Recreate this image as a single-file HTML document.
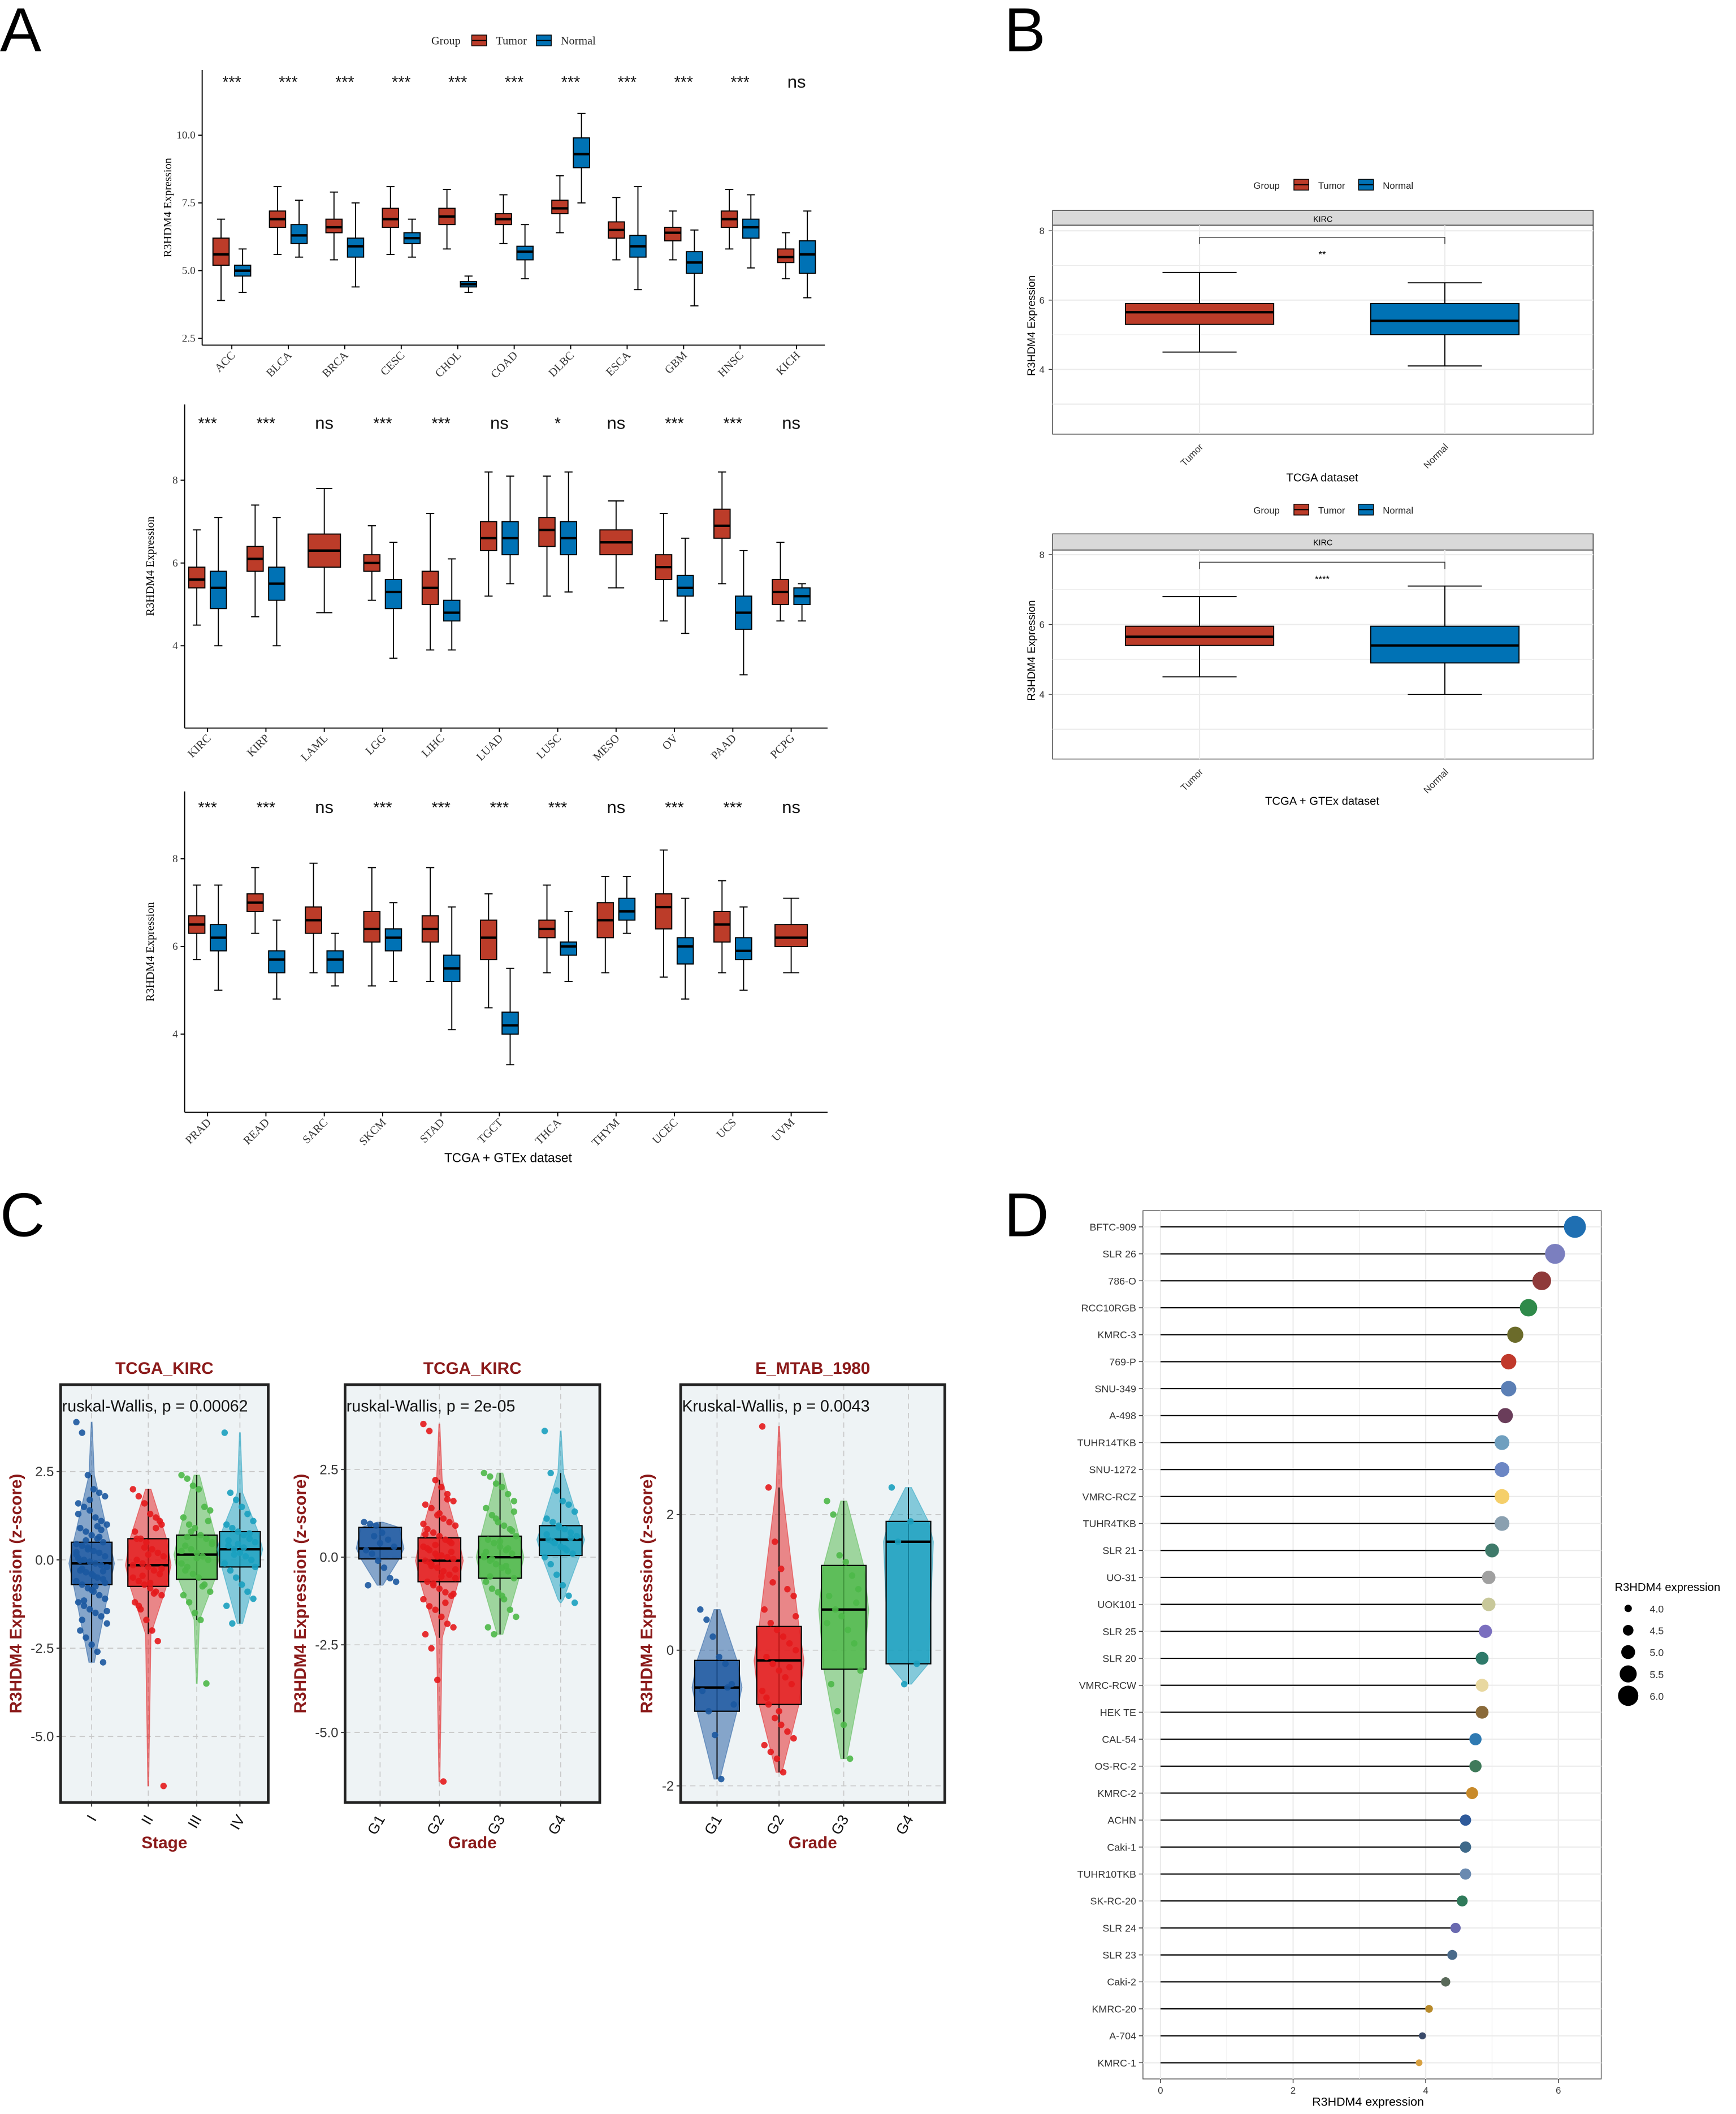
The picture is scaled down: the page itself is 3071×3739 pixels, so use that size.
<!DOCTYPE html>
<html><head><meta charset="utf-8">
<style>
html,body{margin:0;padding:0;background:#fff;}
svg{display:block;}
</style></head>
<body>
<svg id="fig" xmlns="http://www.w3.org/2000/svg" width="3071" height="3739" viewBox="0 0 1288 1568" preserveAspectRatio="none">
<rect x="0" y="0" width="1288" height="1568" fill="#fff"/>
</svg>
<script>
// ---------- Panel A data ----------
const a1Cats = ["ACC","BLCA","BRCA","CESC","CHOL","COAD","DLBC","ESCA","GBM","HNSC","KICH"];
const a1Sig = ["***","***","***","***","***","***","***","***","***","***","ns"];
const a1Tumor = [[3.9,5.2,5.6,6.2,6.9],[5.6,6.6,6.9,7.2,8.1],[5.4,6.4,6.6,6.9,7.9],[5.6,6.6,6.9,7.3,8.1],[5.8,6.7,7.0,7.3,8.0],[6.0,6.7,6.9,7.1,7.8],[6.4,7.1,7.3,7.6,8.5],[5.4,6.2,6.5,6.8,7.7],[5.4,6.1,6.4,6.6,7.2],[5.8,6.6,6.9,7.2,8.0],[4.7,5.3,5.5,5.8,6.4]];
const a1Normal = [[4.2,4.8,5.0,5.2,5.8],[5.5,6.0,6.3,6.7,7.6],[4.4,5.5,5.9,6.2,7.5],[5.5,6.0,6.2,6.4,6.9],[4.2,4.4,4.5,4.6,4.8],[4.7,5.4,5.7,5.9,6.7],[7.5,8.8,9.3,9.9,10.8],[4.3,5.5,5.9,6.3,8.1],[3.7,4.9,5.3,5.7,6.5],[5.1,6.2,6.6,6.9,7.8],[4.0,4.9,5.6,6.1,7.2]];
const a1Ticks = [2.5,5.0,7.5,10.0];

const a2Cats = ["KIRC","KIRP","LAML","LGG","LIHC","LUAD","LUSC","MESO","OV","PAAD","PCPG"];
const a2Sig = ["***","***","ns","***","***","ns","*","ns","***","***","ns"];
const a2Tumor = [[4.5,5.4,5.6,5.9,6.8],[4.7,5.8,6.1,6.4,7.4],[4.8,5.9,6.3,6.7,7.8],[5.1,5.8,6.0,6.2,6.9],[3.9,5.0,5.4,5.8,7.2],[5.2,6.3,6.6,7.0,8.2],[5.2,6.4,6.8,7.1,8.1],[5.4,6.2,6.5,6.8,7.5],[4.6,5.6,5.9,6.2,7.2],[5.5,6.6,6.9,7.3,8.2],[4.6,5.0,5.3,5.6,6.5]];
const a2Normal = [[4.0,4.9,5.4,5.8,7.1],[4.0,5.1,5.5,5.9,7.1],null,[3.7,4.9,5.3,5.6,6.5],[3.9,4.6,4.8,5.1,6.1],[5.5,6.2,6.6,7.0,8.1],[5.3,6.2,6.6,7.0,8.2],null,[4.3,5.2,5.4,5.7,6.6],[3.3,4.4,4.8,5.2,6.3],[4.6,5.0,5.2,5.4,5.5]];
const a2Ticks = [4,6,8];

const a3Cats = ["PRAD","READ","SARC","SKCM","STAD","TGCT","THCA","THYM","UCEC","UCS","UVM"];
const a3Sig = ["***","***","ns","***","***","***","***","ns","***","***","ns"];
const a3Tumor = [[5.7,6.3,6.5,6.7,7.4],[6.3,6.8,7.0,7.2,7.8],[5.4,6.3,6.6,6.9,7.9],[5.1,6.1,6.4,6.8,7.8],[5.2,6.1,6.4,6.7,7.8],[4.6,5.7,6.2,6.6,7.2],[5.4,6.2,6.4,6.6,7.4],[5.4,6.2,6.6,7.0,7.6],[5.3,6.4,6.9,7.2,8.2],[5.4,6.1,6.5,6.8,7.5],[5.4,6.0,6.2,6.5,7.1]];
const a3Normal = [[5.0,5.9,6.2,6.5,7.4],[4.8,5.4,5.7,5.9,6.6],[5.1,5.4,5.7,5.9,6.3],[5.2,5.9,6.2,6.4,7.0],[4.1,5.2,5.5,5.8,6.9],[3.3,4.0,4.2,4.5,5.5],[5.2,5.8,6.0,6.1,6.8],[6.3,6.6,6.8,7.1,7.6],[4.8,5.6,6.0,6.2,7.1],[5.0,5.7,5.9,6.2,6.9],null];
const a3Ticks = [4,6,8];

// ---------- Panel B data ----------
const bGroups = ["Tumor","Normal"];
const b1Stats = [[4.5,5.3,5.65,5.9,6.8],[4.1,5.0,5.4,5.9,6.5]];
const b2Stats = [[4.5,5.4,5.65,5.95,6.8],[4.0,4.9,5.4,5.95,7.1]];
const bTicks = [4,6,8];

// ---------- Panel C data ----------
const c1Groups = ["I","II","III","IV"];
const c1Box = [[-2.9,-0.7,-0.1,0.5,2.4],[-2.1,-0.75,-0.15,0.6,2.0],[-1.7,-0.55,0.15,0.7,2.4],[-1.8,-0.2,0.3,0.8,1.9]];
const c1Range = [[-2.9,3.9],[-6.4,2.0],[-3.5,2.4],[-1.8,3.6]];
const c1Points = [
 [3.9,3.6,2.4,2.0,1.9,1.8,1.6,1.5,1.4,1.2,1.1,1.0,0.9,0.8,0.7,0.6,0.5,0.45,0.4,0.3,0.25,0.2,0.1,0.05,0,-0.05,-0.1,-0.15,-0.2,-0.3,-0.35,-0.4,-0.5,-0.55,-0.6,-0.7,-0.8,-0.9,-1.0,-1.1,-1.2,-1.3,-1.4,-1.5,-1.6,-1.8,-2.0,-2.2,-2.4,-2.6,-2.9,0.15,-0.25,0.35,-0.45,0.65,-0.65,1.3,-1.15,1.7,-0.75,0.85,-1.45,-0.02,0.55,-0.85,0.95,-0.32,0.22,-1.7],
 [2.0,1.8,1.6,1.3,1.2,1.0,0.8,0.6,0.5,0.3,0.2,0.1,0,-0.1,-0.2,-0.3,-0.4,-0.5,-0.6,-0.7,-0.8,-0.9,-1.0,-1.2,-1.4,-1.7,-2.0,-2.3,-6.4,0.6,-0.45,0.15,-0.95,1.1,-0.15,-1.3,0.35,-0.65,0.9,-0.25],
 [2.4,2.3,2.1,2.0,1.5,1.4,1.2,1.0,0.9,0.7,0.6,0.5,0.4,0.3,0.2,0.1,0,-0.1,-0.2,-0.4,-0.5,-0.7,-0.9,-1.0,-1.2,-1.5,-1.7,-3.5,0.45,-0.3,0.8,0.05,-0.75,1.1,0.25,0.65],
 [3.6,1.9,1.7,1.5,1.3,1.1,1.0,0.9,0.8,0.7,0.6,0.5,0.4,0.3,0.2,0.1,0,-0.1,-0.3,-0.5,-0.7,-0.9,-1.1,-1.3,-1.8,0.45,0.35,0.75,-0.2,0.55,0.15]
];
const c1Ticks = [2.5,0.0,-2.5,-5.0];

const c2Groups = ["G1","G2","G3","G4"];
const c2Box = [[-0.8,-0.05,0.25,0.85,1.0],[-2.3,-0.7,-0.1,0.55,2.2],[-2.2,-0.6,0.0,0.6,2.4],[-1.2,0.05,0.5,0.9,2.4]];
const c2Range = [[-0.8,1.0],[-6.4,3.8],[-2.2,2.4],[-1.3,3.6]];
const c2Points = [
 [1.0,0.95,0.9,0.7,0.5,0.3,0.2,0.1,-0.1,-0.3,-0.6,-0.7,-0.8,0.6,0.4],
 [3.8,3.6,2.2,2.0,1.8,1.6,1.5,1.4,1.2,1.1,1.0,0.9,0.8,0.7,0.6,0.5,0.4,0.3,0.2,0.1,0.05,0,-0.05,-0.1,-0.2,-0.3,-0.4,-0.5,-0.6,-0.7,-0.8,-0.9,-1.0,-1.1,-1.2,-1.4,-1.5,-1.7,-1.9,-2.0,-2.2,-2.6,-3.5,-6.4,0.45,-0.35,0.25,-0.75,1.25,-1.3,0.15,0.95,-0.15,0.35,-0.55,1.65,-1.05,0.65,-0.25,0.02],
 [2.4,2.3,2.1,2.0,1.8,1.6,1.4,1.2,1.0,0.9,0.8,0.6,0.5,0.4,0.3,0.2,0.1,0,-0.1,-0.2,-0.3,-0.4,-0.6,-0.7,-0.9,-1.0,-1.2,-1.5,-1.7,-2.0,-2.2,0.45,-0.25,0.75,0.05,-0.55,1.1,-1.1,0.25,1.3,0.15,-0.05],
 [3.6,2.4,1.9,1.6,1.5,1.3,1.1,1.0,0.9,0.8,0.7,0.6,0.5,0.4,0.3,0.2,0.1,0,-0.2,-0.5,-0.8,-1.1,-1.3,0.65,0.45,0.85,0.25,0.55]
];
const c2Ticks = [2.5,0.0,-2.5,-5.0];

const c3Groups = ["G1","G2","G3","G4"];
const c3Box = [[-1.9,-0.9,-0.55,-0.15,0.6],[-1.8,-0.8,-0.15,0.35,2.4],[-1.6,-0.28,0.6,1.25,2.2],[-0.5,-0.2,1.6,1.9,2.4]];
const c3Range = [[-1.9,0.6],[-1.8,3.3],[-1.6,2.2],[-0.5,2.4]];
const c3Points = [
 [0.6,0.45,0.2,-0.1,-0.2,-0.5,-0.6,-0.9,-1.25,-1.9,-0.55,-0.8],
 [3.3,2.4,1.6,1.2,0.9,0.8,0.6,0.4,0.3,0.2,0.1,0,-0.1,-0.2,-0.3,-0.4,-0.5,-0.6,-0.8,-1.0,-1.1,-1.2,-1.3,-1.4,-1.5,-1.6,-1.8,-0.25,0.5,-0.7,1.0,-0.9],
 [2.2,2.0,1.4,1.3,1.1,0.9,0.8,0.6,0.5,0.3,0.1,-0.3,-0.5,-0.9,-1.1,-1.6,0.7,0.4],
 [2.4,1.6,-0.5,1.9,-0.2]
];
const c3Ticks = [2,0,-2];

// ---------- Panel D data ----------
const dLines = ["BFTC-909","SLR 26","786-O","RCC10RGB","KMRC-3","769-P","SNU-349","A-498","TUHR14TKB","SNU-1272","VMRC-RCZ","TUHR4TKB","SLR 21","UO-31","UOK101","SLR 25","SLR 20","VMRC-RCW","HEK TE","CAL-54","OS-RC-2","KMRC-2","ACHN","Caki-1","TUHR10TKB","SK-RC-20","SLR 24","SLR 23","Caki-2","KMRC-20","A-704","KMRC-1"];
const dValues = [6.25,5.95,5.75,5.55,5.35,5.25,5.25,5.2,5.15,5.15,5.15,5.15,5.0,4.95,4.95,4.9,4.85,4.85,4.85,4.75,4.75,4.7,4.6,4.6,4.6,4.55,4.45,4.4,4.3,4.05,3.95,3.9];
const dColors = ["#1f6fb2","#7b7fbf","#8f3a3a","#2f8a4a","#6b6b2a","#c0392b","#5b7fb5","#6a3d5a","#6f9fbf","#6b86c4","#f5cf6a","#8aa0b0","#3f7a6a","#a0a0a0","#c8c89a","#7b6fbf","#2f7a6a","#e8d8a0","#8a6a3a","#2f7ab2","#3f7a5a","#c88a2a","#2f5a9a","#3f6a8a","#6a8ab0","#2f7a5a","#6a6ab0","#4a6a8a","#5a6a5a","#b88a2a","#3a4a6a","#d8a040"];
const dTicks = [0,2,4,6];
const dLegendVals = [4.0,4.5,5.0,5.5,6.0];

// ---------- helpers ----------
const NS = "http://www.w3.org/2000/svg";
const svg = document.getElementById("fig");
function el(tag, attrs, parent, text){
  const e = document.createElementNS(NS, tag);
  for (const k in attrs) e.setAttribute(k, attrs[k]);
  if (text !== undefined) e.textContent = text;
  (parent || svg).appendChild(e);
  return e;
}
const RED = "#bc3c29", BLUE = "#0072b5";
const SERIF = "'Liberation Serif', serif", SANS = "'Liberation Sans', sans-serif";

function box(parent, cx, w, s, yf, fill, name){
  const g = el("g", {}, parent);
  
  
  el("line", {x1:cx,x2:cx,y1:yf(s[0]),y2:yf(s[1]),stroke:"#000","stroke-width":0.8}, g);
  el("line", {x1:cx,x2:cx,y1:yf(s[3]),y2:yf(s[4]),stroke:"#000","stroke-width":0.8}, g);
  el("line", {x1:cx-w/4,x2:cx+w/4,y1:yf(s[0]),y2:yf(s[0]),stroke:"#000","stroke-width":0.8}, g);
  el("line", {x1:cx-w/4,x2:cx+w/4,y1:yf(s[4]),y2:yf(s[4]),stroke:"#000","stroke-width":0.8}, g);
  el("rect", {x:cx-w/2,y:yf(s[3]),width:w,height:yf(s[1])-yf(s[3]),fill:fill,stroke:"#000","stroke-width":0.8}, g);
  el("line", {x1:cx-w/2,x2:cx+w/2,y1:yf(s[2]),y2:yf(s[2]),stroke:"#000","stroke-width":1.8}, g);
  return g;
}

// ---------- Panel A ----------
el("text",{x:0,y:38,"font-family":SANS,"font-size":46},svg,"A");
function legendGroup(x, y, font, fs, nm){
  const g = el("g",{},svg);
  
  
  el("text",{x:x,y:y+3,"font-family":font,"font-size":fs,fill:"#222"},g,"Group");
  el("rect",{x:x+30,y:y-4,width:11,height:8,fill:RED,stroke:"#000","stroke-width":0.6},g);
  el("line",{x1:x+30,x2:x+41,y1:y,y2:y,stroke:"#000","stroke-width":0.8},g);
  el("text",{x:x+48,y:y+3,"font-family":font,"font-size":fs,fill:"#222"},g,"Tumor");
  el("rect",{x:x+78,y:y-4,width:11,height:8,fill:BLUE,stroke:"#000","stroke-width":0.6},g);
  el("line",{x1:x+78,x2:x+89,y1:y,y2:y,stroke:"#000","stroke-width":0.8},g);
  el("text",{x:x+96,y:y+3,"font-family":font,"font-size":fs,fill:"#222"},g,"Normal");
}
legendGroup(320, 30, SERIF, 8.5, "panel-a-legend");

function panelARow(cats, sig, tum, nor, ticks, x0, x1, yTop, yBot, yf, cx0, dx, sigY, nm){
  const g = el("g",{},svg);
  
  
  el("line",{x1:x0,x2:x0,y1:yTop,y2:yBot,stroke:"#000","stroke-width":0.8},g);
  el("line",{x1:x0,x2:x1,y1:yBot,y2:yBot,stroke:"#000","stroke-width":0.8},g);
  ticks.forEach(t=>{
    el("line",{x1:x0-3,x2:x0,y1:yf(t),y2:yf(t),stroke:"#000","stroke-width":0.8},g);
    const tl = el("text",{x:x0-5,y:yf(t)+2.5,"text-anchor":"end","font-family":SERIF,"font-size":8,fill:"#333"},g,t.toFixed(t%1===0&&ticks[0]===4?0:1));
    
  });
  el("text",{transform:`translate(${x0-23},${(yTop+yBot)/2}) rotate(-90)`,"text-anchor":"middle","font-family":SERIF,"font-size":8.5},g,"R3HDM4 Expression");
  cats.forEach((c,i)=>{
    const cx = cx0 + i*dx;
    el("line",{x1:cx,x2:cx,y1:yBot,y2:yBot+3,stroke:"#000","stroke-width":0.8},g);
    const lbl = el("text",{transform:`translate(${cx+3},${yBot+8}) rotate(-45)`,"text-anchor":"end","font-family":SERIF,"font-size":8.5,fill:"#333"},g,c);
    
    const st = el("text",{x:cx,y:sigY,"text-anchor":"middle","font-family":SANS,"font-size":sig[i]==="ns"?13:12,fill:"#111"},g,sig[i]);
    
    if (nor[i]) {
      box(g, cx-8, 12, tum[i], yf, RED, "tumor-box-"+c);
      box(g, cx+8, 12, nor[i], yf, BLUE, "normal-box-"+c);
    } else {
      box(g, cx, 24, tum[i], yf, RED, "tumor-box-"+c);
    }
  });
}
panelARow(a1Cats,a1Sig,a1Tumor,a1Normal,a1Ticks,150,612,52,256,v=>251-(v-2.5)*20.1,172,41.9,65,"panel-a-row1");
panelARow(a2Cats,a2Sig,a2Tumor,a2Normal,a2Ticks,137,614,300,540,v=>479-(v-4)*30.7,154,43.3,318,"panel-a-row2");
panelARow(a3Cats,a3Sig,a3Tumor,a3Normal,a3Ticks,137,614,587,825,v=>767-(v-4)*32.5,154,43.3,603,"panel-a-row3");
el("text",{x:377,y:862,"text-anchor":"middle","font-family":SANS,"font-size":9.5},svg,"TCGA + GTEx dataset");

// ---------- Panel B ----------
el("text",{x:745,y:38,"font-family":SANS,"font-size":46},svg,"B");
function panelB(stats, yStrip, yTop, yBot, yf, sigTxt, legY, xTitle, titleY, nm){
  legendGroup(930, legY, SANS, 7, nm+"-legend");
  const g = el("g",{},svg);
  
  
  const x0=781,x1=1182;
  el("rect",{x:x0,y:yStrip,width:x1-x0,height:yTop-yStrip,fill:"#d9d9d9",stroke:"#333","stroke-width":0.6},g);
  el("text",{x:(x0+x1)/2,y:yStrip+8.5,"text-anchor":"middle","font-family":SANS,"font-size":6},g,"KIRC");
  el("rect",{x:x0,y:yTop,width:x1-x0,height:yBot-yTop,fill:"#fff",stroke:"#333","stroke-width":0.6},g);
  [4,5,6,7,8].forEach(t=>{ if (yf(t)>yTop) el("line",{x1:x0,x2:x1,y1:yf(t),y2:yf(t),stroke:"#ebebeb","stroke-width":t%2?0.5:0.9},g); });
  el("line",{x1:x0,x2:x1,y1:yf(3),y2:yf(3),stroke:"#ebebeb","stroke-width":0.9},g);
  const cxs=[890,1072];
  cxs.forEach(cx=>el("line",{x1:cx,x2:cx,y1:yTop,y2:yBot,stroke:"#ebebeb","stroke-width":0.9},g));
  bTicks.forEach(t=>{
    el("line",{x1:x0-3,x2:x0,y1:yf(t),y2:yf(t),stroke:"#333","stroke-width":0.6},g);
    el("text",{x:x0-6,y:yf(t)+2.5,"text-anchor":"end","font-family":SANS,"font-size":7,fill:"#333"},g,String(t));
  });
  el("text",{transform:`translate(768,${(yTop+yBot)/2-3}) rotate(-90)`,"text-anchor":"middle","font-family":SANS,"font-size":8},g,"R3HDM4 Expression");
  bGroups.forEach((gr,i)=>{
    box(g, cxs[i], 110, stats[i], yf, i?BLUE:RED, gr.toLowerCase()+"-box");
    el("text",{transform:`translate(${cxs[i]+3},${yBot+10}) rotate(-45)`,"text-anchor":"end","font-family":SANS,"font-size":7,fill:"#333"},g,gr);
  });
  el("polyline",{points:`890,${yTop+14} 890,${yTop+9} 1072,${yTop+9} 1072,${yTop+14}`,fill:"none",stroke:"#333","stroke-width":0.6},g);
  el("text",{x:981,y:yTop+24,"text-anchor":"middle","font-family":SANS,"font-size":7},g,sigTxt);
  el("text",{x:981,y:titleY,"text-anchor":"middle","font-family":SANS,"font-size":8.5},g,xTitle);
}
panelB(b1Stats,156,167,322,v=>274-(v-4)*25.7,"**",137,"TCGA dataset",357,"panel-b-top");
panelB(b2Stats,396,408,563,v=>515-(v-4)*25.9,"****",378,"TCGA + GTEx dataset",597,"panel-b-bottom");

// ---------- Panel C ----------
el("text",{x:0,y:917,"font-family":SANS,"font-size":46},svg,"C");
const cCols = ["#1b58a0","#e41a1c","#4db848","#1aa0bf"];
function violinPath(cx, hw, r, s, yf){
  const right=[[r[0],0.02],[s[0],0.12],[s[1],0.8],[s[2],1],[s[3],0.8],[s[4],0.12],[r[1],0.02]];
  let d=`M${cx+hw*right[0][1]},${yf(right[0][0])}`;
  right.slice(1).forEach(p=>{d+=` L${cx+hw*p[1]},${yf(p[0])}`;});
  right.slice().reverse().forEach(p=>{d+=` L${cx-hw*p[1]},${yf(p[0])}`;});
  return d+"Z";
}
function panelC(groups, boxes, ranges, points, ticks, x0, x1, yTop, yBot, yf, cxs, title, kw, xTitle, yTitleX, nm){
  const g = el("g",{},svg);
  
  
  const clipId = nm+"-clip";
  const cp = el("clipPath",{id:clipId},g);
  el("rect",{x:x0,y:yTop,width:x1-x0,height:yBot-yTop},cp);
  el("rect",{x:x0,y:yTop,width:x1-x0,height:yBot-yTop,fill:"#eef3f5"},g);
  const inner = el("g",{"clip-path":`url(#${clipId})`},g);
  ticks.forEach(t=>el("line",{x1:x0,x2:x1,y1:yf(t),y2:yf(t),stroke:"#c8c8c8","stroke-width":0.7,"stroke-dasharray":"4,3"},inner));
  cxs.forEach(cx=>el("line",{x1:cx,x2:cx,y1:yTop,y2:yBot,stroke:"#c8c8c8","stroke-width":0.7,"stroke-dasharray":"4,3"},inner));
  const sp = cxs[1]-cxs[0];
  const bw = sp*0.72, hw = bw*0.56;
  groups.forEach((gr,i)=>{
    const cx=cxs[i];
    const v = el("path",{d:violinPath(cx,hw,ranges[i],boxes[i],yf),fill:cCols[i],"fill-opacity":0.5,stroke:cCols[i],"stroke-opacity":0.5,"stroke-width":0.6},inner);
    
    const s=boxes[i];
    const bg = el("g",{},inner);
    
    el("line",{x1:cx,x2:cx,y1:yf(s[0]),y2:yf(s[4]),stroke:"#000","stroke-width":0.8},bg);
    el("rect",{x:cx-bw/2,y:yf(s[3]),width:bw,height:yf(s[1])-yf(s[3]),fill:cCols[i],"fill-opacity":0.8,stroke:"#000","stroke-width":0.9},bg);
    el("line",{x1:cx-bw/2,x2:cx+bw/2,y1:yf(s[2]),y2:yf(s[2]),stroke:"#000","stroke-width":1.8},bg);
    points[i].forEach((p,k)=>{
      const off = (((k*37)%17)/16-0.5)*bw*0.75;
      const c = el("circle",{cx:cx+off,cy:yf(p),r:2.4,fill:cCols[i],"fill-opacity":0.9},inner);
      
    });
    el("line",{x1:cx,x2:cx,y1:yBot,y2:yBot+3,stroke:"#333","stroke-width":0.8},g);
    el("text",{transform:`translate(${cx+4},${yBot+12}) rotate(-60)`,"text-anchor":"end","font-family":SANS,"font-size":11,fill:"#111"},g,gr);
  });
  el("text",{x:x0+1,y:yTop+20,"font-family":SANS,"font-size":12,fill:"#111"},inner,kw);
  el("rect",{x:x0,y:yTop,width:x1-x0,height:yBot-yTop,fill:"none",stroke:"#222","stroke-width":2},g);
  ticks.forEach(t=>{
    el("line",{x1:x0-3,x2:x0,y1:yf(t),y2:yf(t),stroke:"#333","stroke-width":0.8},g);
    el("text",{x:x0-5,y:yf(t)+3.5,"text-anchor":"end","font-family":SANS,"font-size":10,fill:"#333"},g,t%1===0&&ticks[0]===2?String(t):t.toFixed(1));
  });
  el("text",{x:(x0+x1)/2,y:yTop-8,"text-anchor":"middle","font-family":SANS,"font-size":12.5,"font-weight":"bold",fill:"#8b1a1a"},g,title);
  el("text",{x:(x0+x1)/2,y:1371,"text-anchor":"middle","font-family":SANS,"font-size":12.5,"font-weight":"bold",fill:"#8b1a1a"},g,xTitle);
  el("text",{transform:`translate(${yTitleX},${(yTop+yBot)/2}) rotate(-90)`,"text-anchor":"middle","font-family":SANS,"font-size":12.5,"font-weight":"bold",fill:"#8b1a1a"},g,"R3HDM4 Expression (z-score)");
}
panelC(c1Groups,c1Box,c1Range,c1Points,c1Ticks,45,199,1027,1337,v=>1157-v*26.2,[68,110,146,178],"TCGA_KIRC","Kruskal-Wallis, p = 0.00062".slice(1),"Stage",16,"panel-c-stage");
panelC(c2Groups,c2Box,c2Range,c2Points,c2Ticks,256,445,1027,1337,v=>1155-v*26.0,[282,326,371,416],"TCGA_KIRC","Kruskal-Wallis, p = 2e-05".slice(1),"Grade",227,"panel-c-grade");
panelC(c3Groups,c3Box,c3Range,c3Points,c3Ticks,505,701,1027,1337,v=>1224-v*50.3,[532,578,626,674],"E_MTAB_1980","Kruskal-Wallis, p = 0.0043","Grade",484,"panel-c-emtab");

// ---------- Panel D ----------
el("text",{x:745,y:917,"font-family":SANS,"font-size":46},svg,"D");
(function(){
  const g = el("g",{},svg);
  
  
  const x0=848,x1=1188,yTop=898,yBot=1542;
  const xf=v=>861+v*49.2, yf=i=>910+i*20;
  const rf=v=>2.5+(v-3.9)*2.4;
  el("rect",{x:x0,y:yTop,width:x1-x0,height:yBot-yTop,fill:"#fff",stroke:"#555","stroke-width":0.6},g);
  for (let t=0;t<=6.5;t+=1) el("line",{x1:xf(t),x2:xf(t),y1:yTop,y2:yBot,stroke:"#ebebeb","stroke-width":t%2?0.5:0.9},g);
  dLines.forEach((n,i)=>el("line",{x1:x0,x2:x1,y1:yf(i),y2:yf(i),stroke:"#ebebeb","stroke-width":0.9},g));
  dTicks.forEach(t=>{
    el("line",{x1:xf(t),x2:xf(t),y1:yBot,y2:yBot+3,stroke:"#333","stroke-width":0.6},g);
    el("text",{x:xf(t),y:yBot+11,"text-anchor":"middle","font-family":SANS,"font-size":7,fill:"#333"},g,String(t));
  });
  el("text",{x:1015,y:1562,"text-anchor":"middle","font-family":SANS,"font-size":9},g,"R3HDM4 expression");
  dLines.forEach((n,i)=>{
    el("line",{x1:x0-3,x2:x0,y1:yf(i),y2:yf(i),stroke:"#333","stroke-width":0.6},g);
    const lb = el("text",{x:x0-5,y:yf(i)+2.7,"text-anchor":"end","font-family":SANS,"font-size":7.5,fill:"#333"},g,n);
    
    const seg = el("line",{x1:xf(0),x2:xf(dValues[i]),y1:yf(i),y2:yf(i),stroke:"#000","stroke-width":0.9},g);
    
    const dot = el("circle",{cx:xf(dValues[i]),cy:yf(i),r:rf(dValues[i]),fill:dColors[i]},g);
    
  });
  const lg = el("g",{},svg);
  
  
  el("text",{x:1198,y:1180,"font-family":SANS,"font-size":8.5},lg,"R3HDM4 expression");
  dLegendVals.forEach((v,i)=>{
    el("circle",{cx:1208,cy:1193+i*16.2,r:rf(v),fill:"#000"},lg);
    el("text",{x:1224,y:1196+i*16.2,"font-family":SANS,"font-size":7.5,fill:"#333"},lg,v.toFixed(1));
  });
})();
</script>
</body></html>
